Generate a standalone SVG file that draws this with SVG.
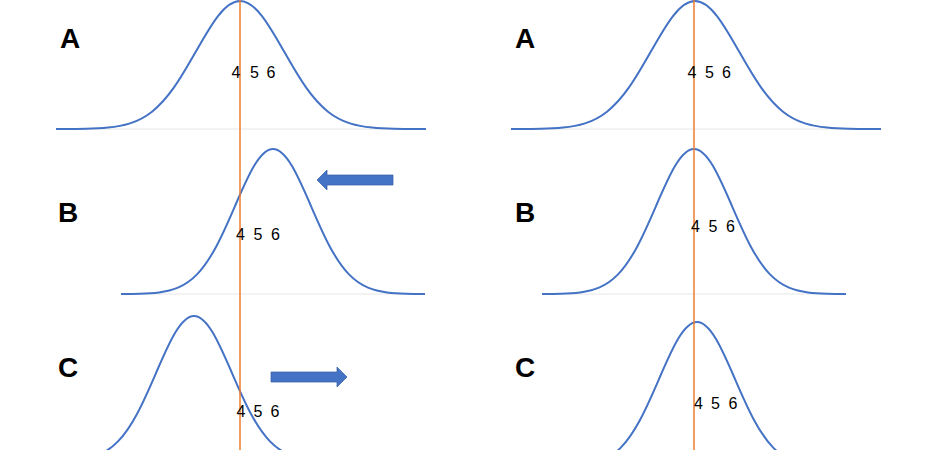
<svg xmlns="http://www.w3.org/2000/svg" xmlns:xlink="http://www.w3.org/1999/xlink" width="930" height="450" viewBox="0 0 930 450">
  <style>
    .curve { fill: none; stroke: #4472C4; stroke-width: 2; stroke-linejoin: round; }
    .base { stroke: #E6E6E6; stroke-width: 1; }
    .mean { stroke: #ED7D31; stroke-width: 1.5; }
    .letter { font-family: "Liberation Sans", Arial, sans-serif; font-weight: bold; font-size: 28px; fill: #000; }
    .nums { font-family: "Liberation Sans", Arial, sans-serif; font-size: 16px; fill: #000; }
    .arrow { fill: #4472C4; stroke: #3A62A8; stroke-width: 0.75; }
  </style>
  <defs>
    <path id="wide" d="M-184,0 L-176,-0.04 C-168.67,-0.07 -161.33,-0.12 -154,-0.28 C-146.67,-0.44 -139.33,-0.71 -132,-1.42 C-124.67,-2.13 -117.33,-3.28 -110,-5.62 C-102.67,-7.97 -95.33,-11.55 -88,-17.32 C-80.67,-23.10 -73.33,-31.17 -66,-41.56 C-58.67,-51.94 -51.33,-64.70 -44,-77.64 C-36.67,-90.58 -29.33,-103.55 -22,-112.96 C-14.67,-122.37 -7.33,-128 0,-128 C7.33,-128 14.67,-122.37 22,-112.96 C29.33,-103.55 36.67,-90.58 44,-77.64 C51.33,-64.70 58.67,-51.94 66,-41.56 C73.33,-31.17 80.67,-23.10 88,-17.32 C95.33,-11.55 102.67,-7.97 110,-5.62 C117.33,-3.28 124.67,-2.13 132,-1.42 C139.33,-0.71 146.67,-0.44 154,-0.28 C161.33,-0.12 168.67,-0.07 176,-0.04 L186,0"/>
    <path id="narrow" d="M-152,-0.05 C-145.67,-0.08 -139.33,-0.13 -133,-0.32 C-126.67,-0.50 -120.33,-0.80 -114,-1.61 C-107.67,-2.42 -101.33,-3.72 -95,-6.37 C-88.67,-9.03 -82.33,-13.08 -76,-19.62 C-69.67,-26.17 -63.33,-35.31 -57,-47.07 C-50.67,-58.84 -44.33,-73.29 -38,-87.95 C-31.67,-102.60 -25.33,-117.30 -19,-127.96 C-12.67,-138.63 -6.33,-145 0,-145 C6.33,-145 12.67,-138.63 19,-127.96 C25.33,-117.30 31.67,-102.60 38,-87.95 C44.33,-73.29 50.67,-58.84 57,-47.07 C63.33,-35.31 69.67,-26.17 76,-19.62 C82.33,-13.08 88.67,-9.03 95,-6.37 C101.33,-3.72 107.67,-2.42 114,-1.61 C120.33,-0.80 126.67,-0.50 133,-0.32 C139.33,-0.13 145.67,-0.08 152,-0.05"/>
  </defs>
  <rect width="930" height="450" fill="#FFFFFF"/>

  <g id="left-A">
    <line class="base" x1="57" y1="129" x2="426" y2="129"/>
    <use class="curve" xlink:href="#wide" transform="translate(240,129)"/>
    <text class="letter" x="60" y="48">A</text>
  </g>
  <g id="left-B">
    <line class="base" x1="122" y1="294" x2="424" y2="294"/>
    <use class="curve" xlink:href="#narrow" transform="translate(273,294)"/>
    <text class="letter" x="58" y="222">B</text>
  </g>
  <g id="left-C">
    <use class="curve" xlink:href="#narrow" transform="translate(194,461)"/>
    <text class="letter" x="58" y="377">C</text>
  </g>
  <g id="right-A">
    <line class="base" x1="512" y1="129" x2="881" y2="129"/>
    <use class="curve" xlink:href="#wide" transform="translate(695,129)"/>
    <text class="letter" x="515" y="48">A</text>
  </g>
  <g id="right-B">
    <line class="base" x1="543" y1="294" x2="845" y2="294"/>
    <use class="curve" xlink:href="#narrow" transform="translate(694,294)"/>
    <text class="letter" x="515" y="222">B</text>
  </g>
  <g id="right-C">
    <use class="curve" xlink:href="#narrow" transform="translate(697,467)"/>
    <text class="letter" x="515" y="377">C</text>
  </g>

  <g id="mean-lines">
    <line class="mean" x1="240" y1="0" x2="240" y2="450"/>
    <line class="mean" x1="694" y1="0" x2="694" y2="450"/>
  </g>

  <g id="numbers">
    <text class="nums" x="231.5 250 266.5" y="78">456</text>
    <text class="nums" x="236 253.5 271" y="239.5">456</text>
    <text class="nums" x="236.5 253.5 270.5" y="417">456</text>
    <text class="nums" x="687.5 705 722" y="78">456</text>
    <text class="nums" x="691 708.5 726" y="232">456</text>
    <text class="nums" x="694 711 728.5" y="408.5">456</text>
  </g>

  <g id="connectors">
    <polygon class="arrow" points="317,180 327,170 327,175 393,175 393,185 327,185 327,190"/>
    <polygon class="arrow" points="271,372 337,372 337,367 347,377 337,387 337,382 271,382"/>
  </g>
</svg>
